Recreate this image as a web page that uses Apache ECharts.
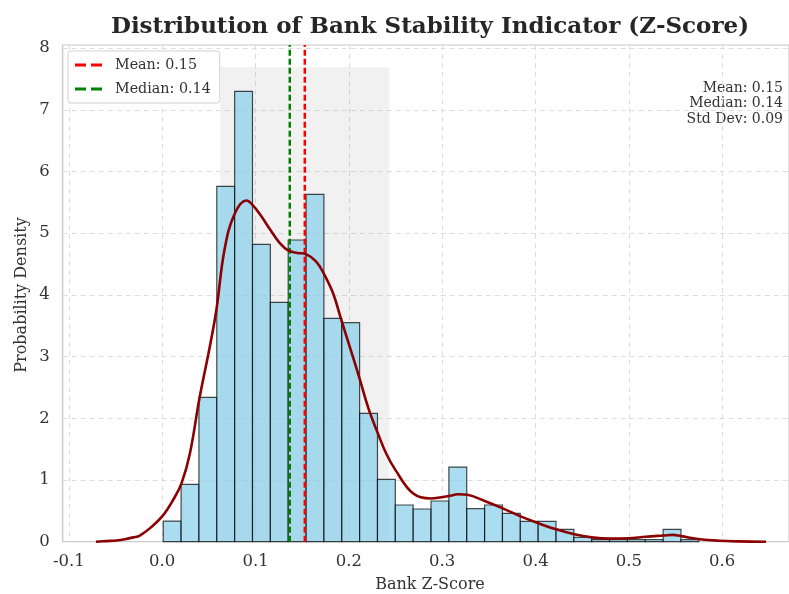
<!DOCTYPE html>
<html>
<head>
<meta charset="utf-8">
<script src="https://cdn.jsdelivr.net/npm/echarts@6/dist/echarts.min.js"></script>
<style>
html,body{margin:0;padding:0;background:#fff;}
#chart{width:789px;height:594px;}
</style>
</head>
<body>
<div id="chart"></div>
<script>
// ---- data ----
const histMin = 0.0011;
const histMax = 0.575;
const density = [0.335, 0.93, 2.34, 5.76, 7.30, 4.82, 3.88, 4.89, 5.63, 3.62,
                 3.55, 2.08, 1.01, 0.595, 0.53, 0.66, 1.21, 0.535, 0.595, 0.46,
                 0.33, 0.33, 0.20, 0.07, 0.035, 0.035, 0.035, 0.035, 0.20, 0.035];
const kdeX = [-0.071, -0.06, -0.049, -0.04, -0.031, -0.024, -0.013, 0.0, 0.0118, 0.0208,
              0.0297, 0.040, 0.051, 0.058, 0.067, 0.0778, 0.0903, 0.0968, 0.1064, 0.116,
              0.126, 0.135, 0.145, 0.154, 0.165, 0.173, 0.183, 0.192, 0.202, 0.212,
              0.221, 0.231, 0.240, 0.250, 0.269, 0.288, 0.307, 0.317, 0.327, 0.3455,
              0.365, 0.384, 0.403, 0.422, 0.4415, 0.460, 0.480, 0.499, 0.518, 0.537,
              0.547, 0.556, 0.576, 0.597, 0.618, 0.647];
const kdeY = [0.0, 0.01, 0.02, 0.04, 0.07, 0.10, 0.22, 0.41, 0.68, 0.95,
              1.43, 2.33, 3.16, 3.75, 4.75, 5.32, 5.53, 5.46, 5.27, 5.05,
              4.84, 4.72, 4.68, 4.66, 4.54, 4.35, 4.03, 3.59, 3.11, 2.62,
              2.16, 1.76, 1.43, 1.16, 0.78, 0.70, 0.74, 0.77, 0.76, 0.66,
              0.54, 0.41, 0.30, 0.20, 0.12, 0.07, 0.05, 0.055, 0.08, 0.10,
              0.11, 0.09, 0.04, 0.015, 0.005, 0.0];
const meanValue = 0.1528;
const medianValue = 0.1367;
const stdValue = 0.0905;
const spanTop = 7.69;
const meanLabel = 'Mean: 0.15';
const medianLabel = 'Median: 0.14';
const statsLines = ['Mean: 0.15', 'Median: 0.14', 'Std Dev: 0.09'];
const titleText = 'Distribution of Bank Stability Indicator (Z-Score)';
const xName = 'Bank Z-Score';
const yName = 'Probability Density';

// ---- build ----
const binW = (histMax - histMin) / density.length;
const histData = density.map((h, i) => [histMin + i * binW, histMin + (i + 1) * binW, h]);
const kdeData = kdeX.map((x, i) => [x, kdeY[i]]);
const FONT = 'DejaVu Serif';
const YMAX = 8.05;
const dashIcon = 'path://M0,0H11V3H0Z M16,0H27V3H16Z';

const chart = echarts.init(document.getElementById('chart'));
chart.setOption({
  animation: false,
  backgroundColor: '#ffffff',
  textStyle: { fontFamily: FONT },
  grid: { left: 62.7, right: -1, top: 45, bottom: 52.3, show: true, borderColor: '#cccccc', borderWidth: 1.2 },
  xAxis: {
    type: 'value', min: -0.1066, max: 0.6716, splitNumber: 8,
    axisLine: { show: true, onZero: false, lineStyle: { color: '#cccccc', width: 1.2 } },
    axisTick: { show: false },
    axisLabel: { showMinLabel: false, showMaxLabel: false, fontFamily: FONT, fontSize: 16.5, color: '#333', margin: 12,
      formatter: v => v.toFixed(1) },
    splitLine: { show: true, lineStyle: { color: '#dddddd', type: [5, 4], width: 1 } }
  },
  yAxis: {
    type: 'value', min: 0, max: YMAX, interval: 1,
    axisLine: { show: true, onZero: false, lineStyle: { color: '#cccccc', width: 1.2 } },
    axisTick: { show: false },
    axisLabel: { showMaxLabel: false, fontFamily: FONT, fontSize: 16.5, color: '#333', margin: 13,
      formatter: v => (Math.abs(v - Math.round(v)) < 1e-6 ? String(Math.round(v)) : '') },
    splitLine: { show: true, lineStyle: { color: '#dddddd', type: [5, 4], width: 1 } }
  },
  legend: {
    left: 68, top: 51, orient: 'vertical',
    data: [{ name: meanLabel, icon: dashIcon }, { name: medianLabel, icon: dashIcon }],
    backgroundColor: '#ffffff', borderColor: '#d0d0d0', borderWidth: 1, borderRadius: 3,
    padding: [7, 9, 7, 7], itemGap: 10, itemWidth: 27, itemHeight: 3,
    textStyle: { fontFamily: FONT, fontSize: 14.3, color: '#333', padding: [0, 0, 0, 8] }
  },
  graphic: [
    { type: 'text', x: 430, y: 27, style: { text: titleText, font: 'bold 23px "DejaVu Serif"', fill: '#262626', textAlign: 'center', textVerticalAlign: 'middle' } },
    { type: 'text', x: 430, y: 585, style: { text: xName, font: '16px "DejaVu Serif"', fill: '#333', textAlign: 'center', textVerticalAlign: 'middle' } },
    { type: 'text', x: 22, y: 295, rotation: Math.PI / 2, style: { text: yName, font: '16px "DejaVu Serif"', fill: '#333', textAlign: 'center', textVerticalAlign: 'middle' } },
    { type: 'text', x: 783, y: 80.5, style: { text: statsLines.join('\n'), font: '14px "DejaVu Serif"', fill: '#333', textAlign: 'right', lineHeight: 15.5 } }
  ],
  series: [
    {
      type: 'custom', name: 'span', z: 1, silent: true,
      data: [[meanValue - stdValue, meanValue + stdValue, spanTop]],
      renderItem: (params, api) => {
        const p0 = api.coord([api.value(0), api.value(2)]);
        const p1 = api.coord([api.value(1), 0]);
        return { type: 'rect', shape: { x: p0[0], y: p0[1], width: p1[0] - p0[0], height: p1[1] - p0[1] },
          style: { fill: 'rgba(128,128,128,0.11)' } };
      }
    },
    {
      type: 'custom', name: 'hist', z: 2,
      data: histData,
      renderItem: (params, api) => {
        const p0 = api.coord([api.value(0), api.value(2)]);
        const p1 = api.coord([api.value(1), 0]);
        return { type: 'rect', shape: { x: p0[0], y: p0[1], width: p1[0] - p0[0], height: p1[1] - p0[1] },
          style: { fill: 'rgba(135,206,235,0.7)', stroke: 'rgba(0,0,0,0.7)', lineWidth: 1.2 } };
      }
    },
    {
      type: 'line', name: meanLabel, z: 3, symbol: 'none', showSymbol: false,
      data: [[meanValue, 0], [meanValue, YMAX]],
      color: '#ff0000',
      lineStyle: { color: '#ff0000', width: 2.5, type: [6, 3] }
    },
    {
      type: 'line', name: medianLabel, z: 3, symbol: 'none', showSymbol: false,
      data: [[medianValue, 0], [medianValue, YMAX]],
      color: '#008000',
      lineStyle: { color: '#008000', width: 2.5, type: [6, 3] }
    },
    {
      type: 'line', name: 'KDE', z: 4, symbol: 'none', showSymbol: false,
      smooth: 0.4,
      data: kdeData,
      lineStyle: { color: '#8b0000', width: 2.6 }
    }
  ]
});
</script>
</body>
</html>
